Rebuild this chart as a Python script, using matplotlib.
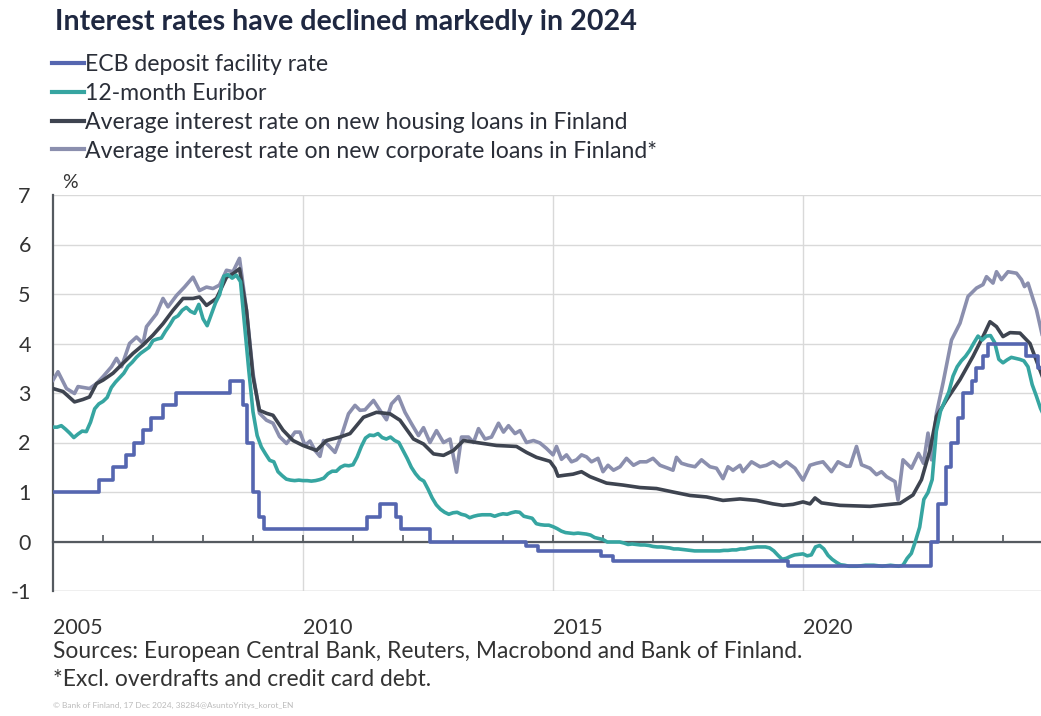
import matplotlib
matplotlib.use("Agg")
import matplotlib.pyplot as plt
from matplotlib.lines import Line2D
import numpy as np

plt.rcParams['font.family'] = ['Lato', 'DejaVu Sans']

title = "Interest rates have declined markedly in 2024"
series_names = ["ECB deposit facility rate", "12-month Euribor",
                "Average interest rate on new housing loans in Finland",
                "Average interest rate on new corporate loans in Finland*"]
source_text = "Sources: European Central Bank, Reuters, Macrobond and Bank of Finland."
note_text = "*Excl. overdrafts and credit card debt."
credit_text = "© Bank of Finland, 17 Dec 2024, 38284@AsuntoYritys_korot_EN"
year_ticks = [2005, 2010, 2015, 2020]
y_ticks = [-1, 0, 1, 2, 3, 4, 5, 6, 7]

# ECB deposit facility rate: change points (decimal year) and new level
ecb_dates = [2005.0, 2005.92, 2006.2, 2006.45, 2006.62, 2006.8, 2006.95, 2007.2, 2007.45,
             2008.53, 2008.8, 2008.88, 2009.0, 2009.12, 2009.22, 2011.28, 2011.53,
             2011.86, 2011.95, 2012.53, 2014.45, 2014.7, 2015.95, 2016.2, 2019.7,
             2022.55, 2022.7, 2022.85, 2022.95, 2023.1, 2023.2, 2023.37, 2023.45,
             2023.6, 2023.7, 2024.45, 2024.7, 2024.82]
ecb_values = [1.00, 1.25, 1.50, 1.75, 2.00, 2.25, 2.50, 2.75, 3.00,
              3.25, 2.75, 2.00, 1.00, 0.50, 0.25, 0.50, 0.75,
              0.50, 0.25, 0.00, -0.10, -0.20, -0.30, -0.40, -0.50,
              0.00, 0.75, 1.50, 2.00, 2.50, 3.00, 3.25, 3.50,
              3.75, 4.00, 3.75, 3.50, 3.25]

# 12-month Euribor, monthly averages Jan 2005 - Nov 2024
euribor_values = [
    2.31, 2.31, 2.34, 2.27, 2.19, 2.10, 2.17, 2.23, 2.22, 2.41, 2.68, 2.78,
    2.83, 2.91, 3.11, 3.22, 3.31, 3.40, 3.54, 3.62, 3.72, 3.80, 3.86, 3.92,
    4.06, 4.09, 4.11, 4.25, 4.37, 4.51, 4.56, 4.67, 4.73, 4.65, 4.61, 4.79,
    4.50, 4.36, 4.59, 4.82, 4.99, 5.36, 5.39, 5.32, 5.38, 5.25, 4.35, 3.45,
    2.62, 2.14, 1.91, 1.77, 1.64, 1.61, 1.41, 1.33, 1.26, 1.24, 1.23, 1.24,
    1.23, 1.23, 1.22, 1.23, 1.25, 1.28, 1.37, 1.42, 1.42, 1.50, 1.54, 1.53,
    1.55, 1.71, 1.92, 2.09, 2.15, 2.14, 2.18, 2.10, 2.07, 2.11, 2.04, 2.00,
    1.84, 1.68, 1.50, 1.37, 1.27, 1.22, 1.06, 0.88, 0.74, 0.65, 0.59, 0.55,
    0.58, 0.59, 0.55, 0.53, 0.48, 0.51, 0.53, 0.54, 0.54, 0.54, 0.51, 0.54,
    0.56, 0.55, 0.58, 0.60, 0.59, 0.51, 0.49, 0.47, 0.36, 0.34, 0.33, 0.33,
    0.30, 0.26, 0.21, 0.18, 0.17, 0.16, 0.17, 0.16, 0.15, 0.13, 0.08, 0.06,
    0.04, -0.01, -0.01, -0.01, -0.01, -0.03, -0.06, -0.05, -0.06, -0.07, -0.07, -0.08,
    -0.10, -0.11, -0.11, -0.12, -0.13, -0.15, -0.15, -0.16, -0.17, -0.18, -0.19, -0.19,
    -0.19, -0.19, -0.19, -0.19, -0.19, -0.18, -0.18, -0.17, -0.17, -0.15, -0.15, -0.13,
    -0.12, -0.11, -0.11, -0.11, -0.13, -0.19, -0.28, -0.36, -0.34, -0.30, -0.27, -0.26,
    -0.25, -0.29, -0.27, -0.11, -0.08, -0.15, -0.28, -0.36, -0.42, -0.47, -0.48, -0.50,
    -0.50, -0.50, -0.49, -0.48, -0.48, -0.48, -0.49, -0.50, -0.49, -0.48, -0.49, -0.50,
    -0.48, -0.34, -0.24, 0.01, 0.29, 0.85, 0.99, 1.25, 2.23, 2.63, 2.83, 3.02,
    3.34, 3.53, 3.65, 3.74, 3.86, 4.01, 4.15, 4.07, 4.15, 4.16, 4.02, 3.68,
    3.61, 3.67, 3.72, 3.70, 3.68, 3.65, 3.53, 3.17, 2.94, 2.69, 2.51]
euribor_start_year = 2005

# Housing loans (decimal year, %)
housing_dates = [2005.0, 2005.2, 2005.43, 2005.6, 2005.73, 2005.87, 2006.0, 2006.2, 2006.4,
                 2006.6, 2006.8, 2007.0, 2007.2, 2007.4, 2007.6, 2007.8, 2007.93, 2008.07,
                 2008.27, 2008.47, 2008.6, 2008.73, 2008.87, 2009.0, 2009.13, 2009.27,
                 2009.4, 2009.6, 2009.8, 2010.0, 2010.27, 2010.47, 2010.74, 2010.94,
                 2011.21, 2011.47, 2011.74, 2011.94, 2012.21, 2012.41, 2012.61, 2012.81,
                 2013.01, 2013.21, 2013.47, 2013.87, 2014.27, 2014.47, 2014.67, 2014.94,
                 2015.04, 2015.1, 2015.24, 2015.4, 2015.57, 2015.74, 2016.07, 2016.4,
                 2016.74, 2017.07, 2017.4, 2017.74, 2018.07, 2018.4, 2018.74, 2019.07,
                 2019.4, 2019.6, 2019.8, 2020.0, 2020.14, 2020.24, 2020.37, 2020.74,
                 2021.34, 2021.94, 2022.2, 2022.37, 2022.54, 2022.67, 2022.87, 2023.14,
                 2023.4, 2023.6, 2023.74, 2023.87, 2024.0, 2024.14, 2024.34, 2024.54,
                 2024.8]
housing_values = [3.09, 3.03, 2.82, 2.87, 2.92, 3.19, 3.26, 3.40, 3.60,
                  3.80, 3.97, 4.17, 4.40, 4.67, 4.91, 4.91, 4.94, 4.77,
                  4.91, 5.34, 5.41, 5.51, 4.67, 3.33, 2.65, 2.59,
                  2.55, 2.25, 2.04, 1.94, 1.84, 2.04, 2.11, 2.18,
                  2.51, 2.61, 2.58, 2.45, 2.07, 1.97, 1.77, 1.74,
                  1.84, 2.04, 2.00, 1.94, 1.92, 1.80, 1.70, 1.62,
                  1.48, 1.32, 1.34, 1.36, 1.41, 1.31, 1.18, 1.14,
                  1.09, 1.07, 1.00, 0.93, 0.90, 0.83, 0.86, 0.83,
                  0.76, 0.73, 0.75, 0.80, 0.76, 0.88, 0.78, 0.73,
                  0.71, 0.77, 0.94, 1.25, 1.85, 2.53, 2.86, 3.27,
                  3.74, 4.14, 4.44, 4.34, 4.14, 4.22, 4.21, 4.00,
                  3.30]

# Corporate loans (decimal year, %)
corporate_dates = [2005.0, 2005.1, 2005.27, 2005.43, 2005.5, 2005.73, 2005.87, 2006.0, 2006.17,
                   2006.27, 2006.37, 2006.53, 2006.67, 2006.8, 2006.87, 2007.07, 2007.2, 2007.3,
                   2007.47, 2007.63, 2007.8, 2007.93, 2008.07, 2008.2, 2008.33, 2008.47, 2008.6,
                   2008.73, 2008.87, 2009.0, 2009.13, 2009.27, 2009.4, 2009.53, 2009.67,
                   2009.74, 2009.84, 2009.94, 2010.04, 2010.14, 2010.24, 2010.34, 2010.41,
                   2010.51, 2010.64, 2010.77, 2010.91, 2011.04, 2011.14, 2011.24, 2011.41,
                   2011.54, 2011.67, 2011.77, 2011.91, 2012.04, 2012.17, 2012.31, 2012.41,
                   2012.54, 2012.67, 2012.81, 2012.94, 2013.07, 2013.17, 2013.31, 2013.41,
                   2013.51, 2013.64, 2013.77, 2013.91, 2014.01, 2014.11, 2014.24, 2014.34,
                   2014.47, 2014.61, 2014.74, 2014.87, 2015.0, 2015.07, 2015.17, 2015.27,
                   2015.37, 2015.47, 2015.57, 2015.67, 2015.77, 2015.9, 2016.0, 2016.1,
                   2016.21, 2016.34, 2016.47, 2016.61, 2016.74, 2016.87, 2017.0, 2017.14,
                   2017.3, 2017.4, 2017.47, 2017.57, 2017.7, 2017.84, 2017.97, 2018.14,
                   2018.27, 2018.4, 2018.5, 2018.6, 2018.74, 2018.8, 2018.97, 2019.14,
                   2019.27, 2019.4, 2019.54, 2019.67, 2019.84, 2020.0, 2020.14, 2020.27,
                   2020.4, 2020.57, 2020.7, 2020.87, 2020.94, 2021.07, 2021.17, 2021.34,
                   2021.47, 2021.57, 2021.67, 2021.84, 2021.9, 2022.0, 2022.17, 2022.31,
                   2022.41, 2022.5, 2022.57, 2022.67, 2022.8, 2022.97, 2023.14, 2023.3,
                   2023.47, 2023.6, 2023.67, 2023.8, 2023.87, 2023.97, 2024.1, 2024.27,
                   2024.37, 2024.43, 2024.5, 2024.67, 2024.8]
corporate_values = [3.26, 3.43, 3.09, 2.99, 3.13, 3.09, 3.19, 3.33, 3.53,
                    3.70, 3.53, 4.00, 4.13, 4.00, 4.34, 4.60, 4.91, 4.74,
                    4.97, 5.14, 5.34, 5.07, 5.14, 5.11, 5.18, 5.48, 5.45,
                    5.72, 4.67, 3.40, 2.59, 2.45, 2.39, 2.12, 1.98,
                    2.07, 2.21, 2.21, 1.94, 2.03, 1.84, 1.72, 2.04,
                    1.94, 1.80, 2.14, 2.58, 2.75, 2.65, 2.66, 2.85,
                    2.65, 2.46, 2.78, 2.93, 2.61, 2.38, 2.14, 2.30,
                    2.00, 2.24, 2.00, 2.07, 1.40, 2.11, 2.11, 2.00,
                    2.28, 2.07, 2.11, 2.39, 2.21, 2.34, 2.18, 2.24,
                    2.00, 2.04, 1.99, 1.88, 1.75, 1.92, 1.66, 1.75,
                    1.61, 1.65, 1.75, 1.71, 1.61, 1.68, 1.41, 1.54,
                    1.44, 1.51, 1.68, 1.54, 1.61, 1.61, 1.68, 1.54,
                    1.48, 1.44, 1.70, 1.58, 1.54, 1.51, 1.65, 1.51,
                    1.48, 1.27, 1.51, 1.44, 1.54, 1.41, 1.61, 1.51,
                    1.54, 1.61, 1.51, 1.61, 1.48, 1.24, 1.54, 1.58,
                    1.61, 1.41, 1.61, 1.52, 1.52, 1.92, 1.55, 1.48,
                    1.35, 1.41, 1.31, 1.21, 0.84, 1.65, 1.48, 1.78,
                    1.58, 2.19, 1.65, 2.59, 3.20, 4.07, 4.41, 4.95,
                    5.12, 5.19, 5.35, 5.22, 5.45, 5.29, 5.45, 5.42,
                    5.29, 5.15, 5.22, 4.68, 4.10]

colors = ["#5566b0", "#36a5a1", "#3e4450", "#8b8fae"]

fig = plt.figure(figsize=(10.41, 7.16), dpi=100)
W, H = 1041, 716
ax = fig.add_axes([53 / W, 1 - 591 / H, (W - 53) / W, (591 - 195) / H])

euribor_dates = euribor_start_year + np.arange(len(euribor_values)) / 12.0

lw = 2.6
ax.plot(corporate_dates, corporate_values, color=colors[3], lw=lw, zorder=3)
ax.plot(housing_dates, housing_values, color=colors[2], lw=lw, zorder=4)
ax.plot(euribor_dates, euribor_values, color=colors[1], lw=lw, zorder=5)
ax.plot(ecb_dates, ecb_values, color=colors[0], lw=lw, zorder=6, drawstyle='steps-post')

ax.set_xlim(2005, 2024.76)
ax.set_ylim(-1, 7)
ax.set_yticks(y_ticks)
ax.set_yticklabels([str(v) for v in y_ticks])
ax.tick_params(axis='y', length=0, pad=16, labelsize=15.5, labelcolor="#333333")

# zero line as bottom spine with yearly ticks
ax.spines['bottom'].set_position(('data', 0))
ax.spines['bottom'].set_color("#555a60")
ax.spines['bottom'].set_linewidth(1.6)
ax.spines['bottom'].set_zorder(2)
ax.set_xticks(np.arange(2005, 2025))
ax.tick_params(axis='x', direction='in', length=5, width=1.2, color="#555a60", labelbottom=False)
ax.spines['left'].set_color("#555a60")
ax.spines['left'].set_linewidth(1.6)
ax.spines['top'].set_visible(False)
ax.spines['right'].set_visible(False)

ax.set_axisbelow(True)
ax.grid(axis='y', color="#d9d9d9", lw=1.0)
for yr in year_ticks[1:]:
    ax.axvline(yr, color="#d9d9d9", lw=1.0, zorder=0)
ax.axhline(-1, color="#d0d0d0", lw=1.0, zorder=0)

sec = ax.secondary_xaxis(location=0)
sec.spines['bottom'].set_visible(False)
sec.set_xticks(year_ticks)
sec.set_xticklabels([str(y) for y in year_ticks], ha='left')
sec.tick_params(length=0, pad=19.5, labelsize=15.5, labelcolor="#333333")

ax.text(0.0, 1.01, "  %", transform=ax.transAxes, fontsize=14, color="#333333", va='bottom', ha='left')

fig.text(55 / W, 1 - 22 / H, title, fontsize=20.6, fontweight='bold', color="#1f2841", va='center', ha='left')

handles = [Line2D([0], [0], color=c, lw=3) for c in colors]
fig.legend(handles, series_names, loc='upper left', bbox_to_anchor=(52 / W, 1 - 54 / H),
           frameon=False, fontsize=16.6, handlelength=1.4, handletextpad=0.05,
           labelspacing=0.34, borderaxespad=0, borderpad=0, labelcolor="#2a2e38")

fig.text(53 / W, 1 - 651 / H, source_text, fontsize=16.4, color="#333333", va='center', ha='left')
fig.text(53 / W, 1 - 680 / H, note_text, fontsize=16.4, color="#333333", va='center', ha='left')
fig.text(53 / W, 1 - 705 / H, credit_text, fontsize=6, color="#bbbbbb", va='center', ha='left')

fig.savefig("out.png", dpi=100)
